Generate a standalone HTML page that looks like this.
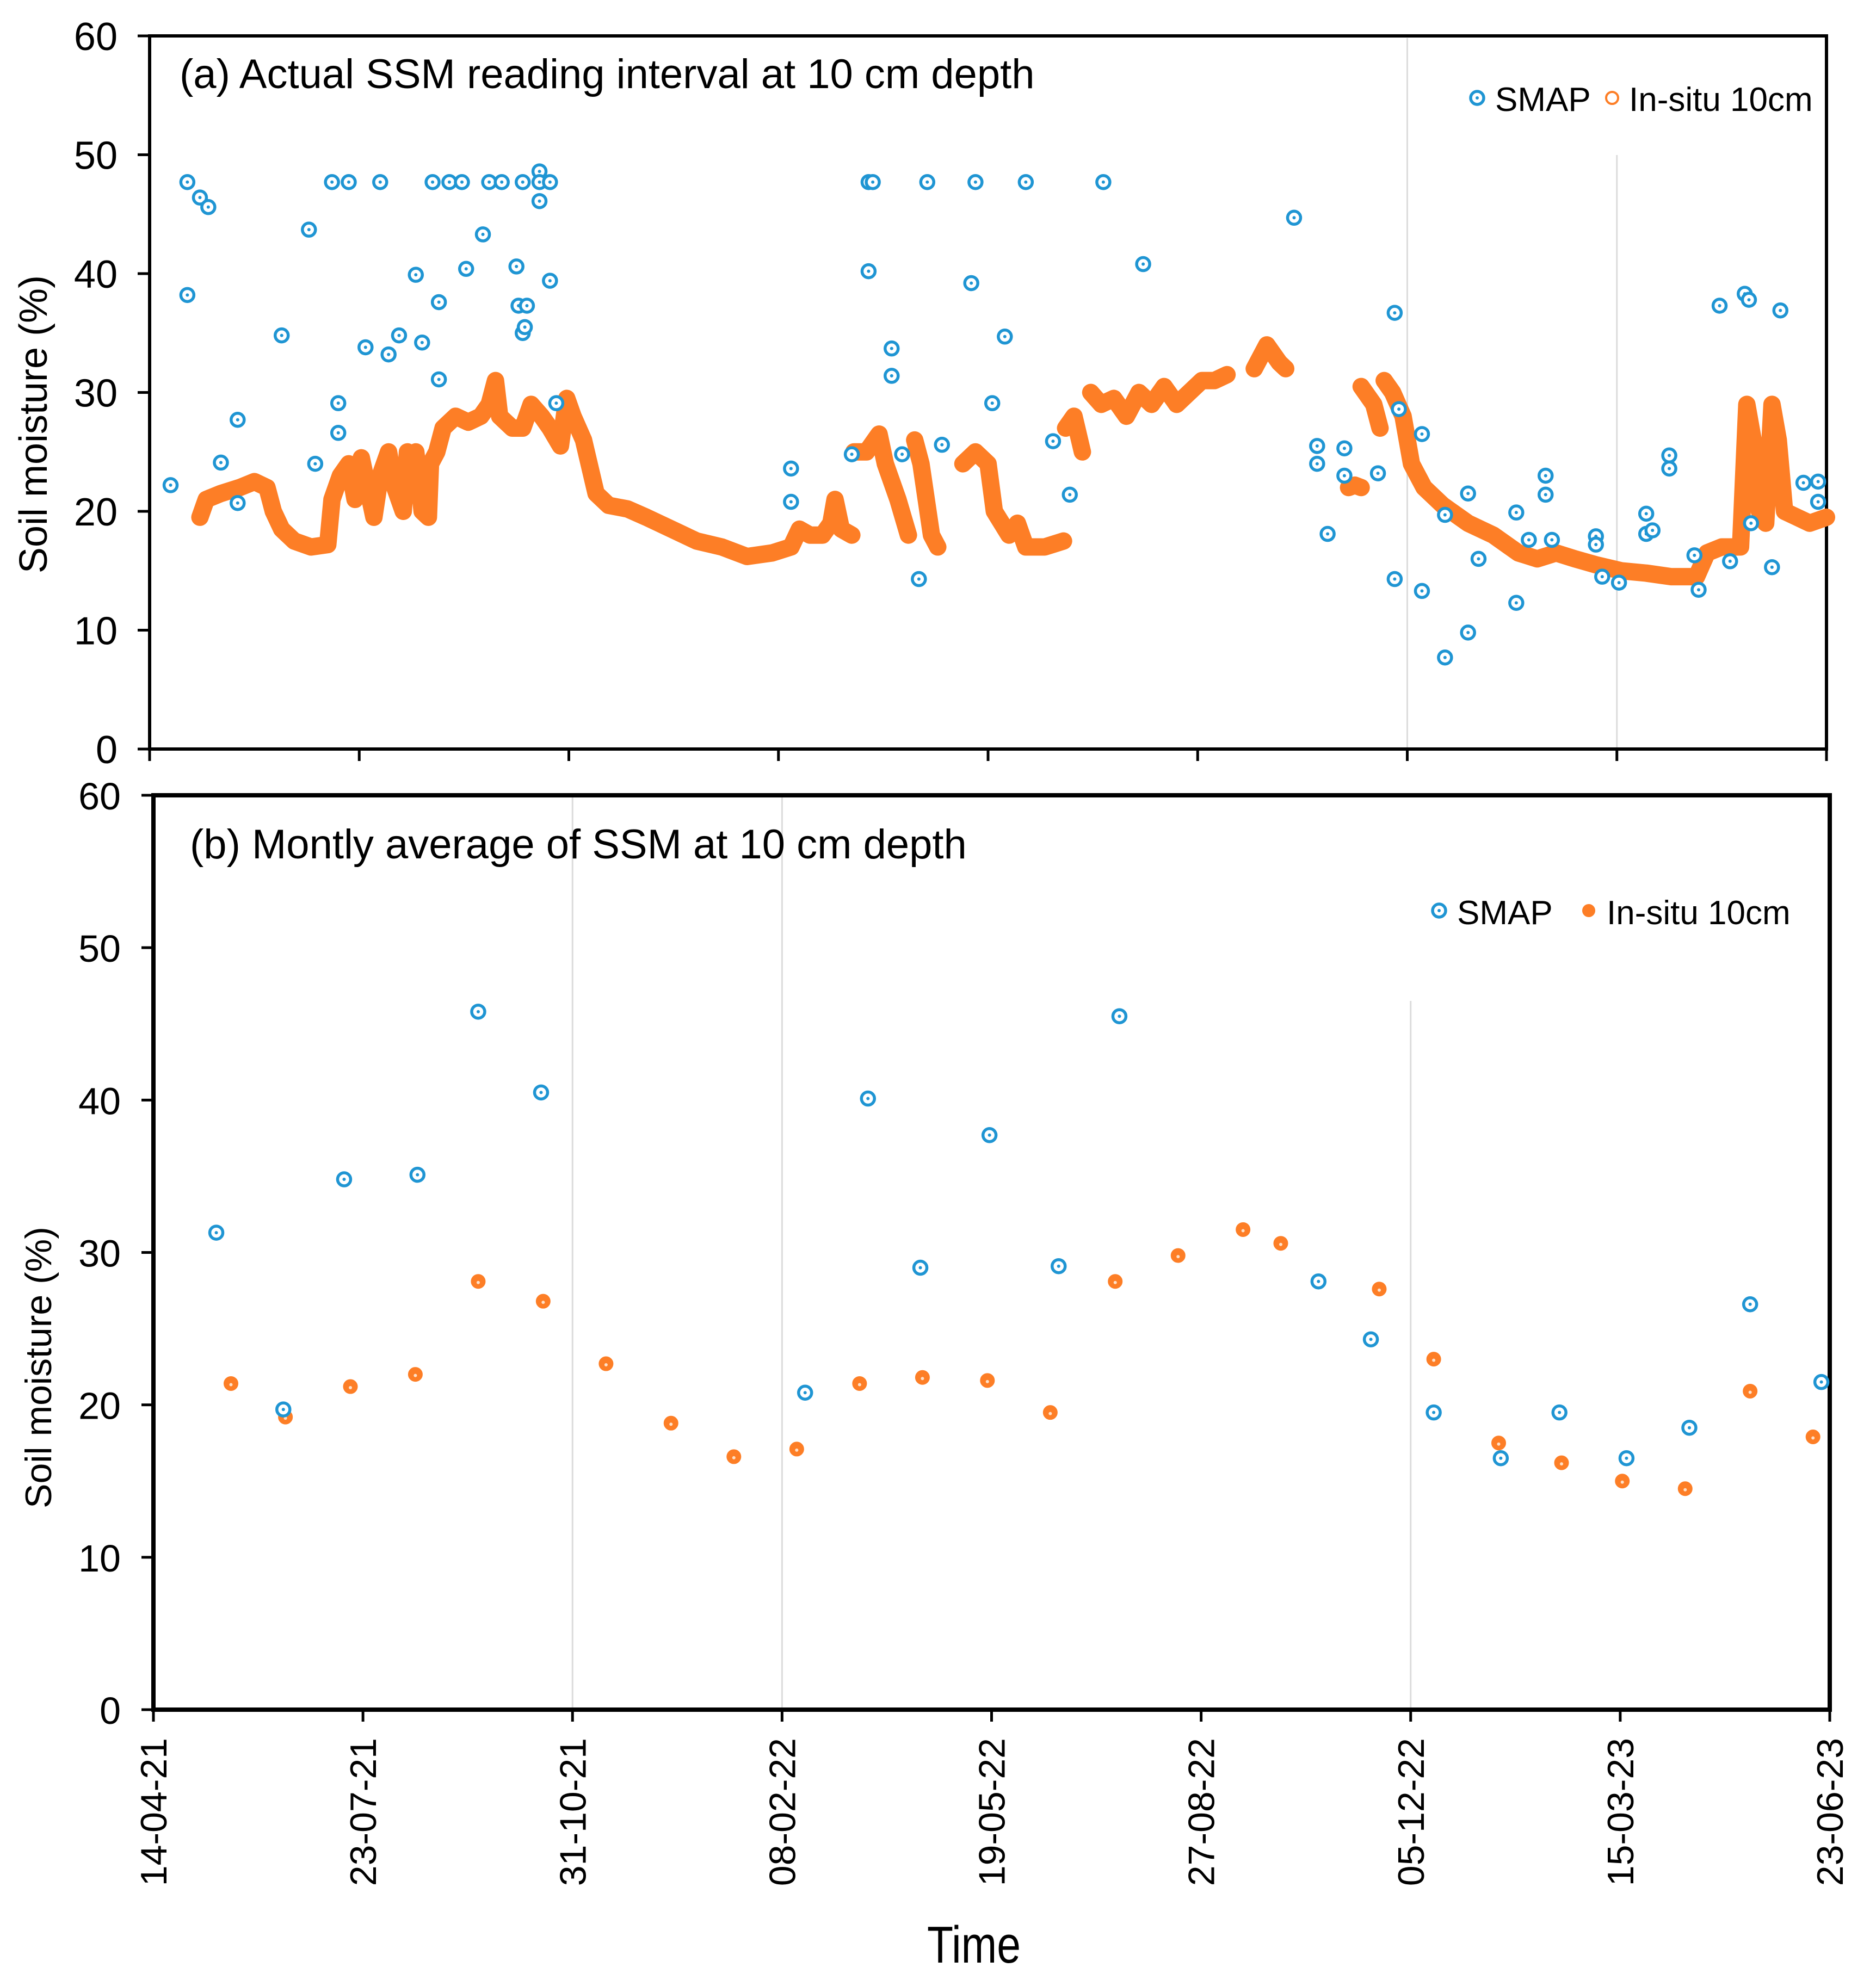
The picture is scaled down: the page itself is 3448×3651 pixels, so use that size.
<!DOCTYPE html>
<html><head><meta charset="utf-8">
<style>
html,body{margin:0;padding:0;background:#fff;}
svg{display:block;font-family:"Liberation Sans",sans-serif;}
</style></head>
<body>
<svg id="chart" width="3448" height="3651" viewBox="0 0 3448 3651" xmlns="http://www.w3.org/2000/svg">
<rect x="0" y="0" width="3448" height="3651" fill="#fff"/>
<g id="panelA"></g>
<g id="panelB"></g>
<text x="1790" y="3608" font-size="96" text-anchor="middle" transform="translate(1790 0) scale(0.82 1) translate(-1790 0)">Time</text>
</svg>
<script>
// ---- data ----
const xTickDays = [0,100,200,300,400,500,600,700,800];
const xTickLabels = ["14-04-21","23-07-21","31-10-21","08-02-22","19-05-22","27-08-22","05-12-22","15-03-23","23-06-23"];
const yTicks = [0,10,20,30,40,50,60];

// Panel (a) SMAP readings
const smapADays = [10,18,18,24,28,34,42,42,63,76,79,87,90,90,95,103,110,114,119,127,130,135,138,138,143,149,151,159,162,168,175,176,180,178,179,178,186,186,186,191,191,194,306,306,335,343,343,345,354,354,359,367,371,378,392,394,402,408,418,431,439,455,474,546,557,557,562,570,570,586,594,594,596,607,607,618,618,629,629,634,652,652,658,666,666,669,690,690,693,701,714,714,717,725,725,737,739,749,754,761,763,764,774,778,789,796,796];
const smapAVals = [22.2,47.7,38.2,46.4,45.6,24.1,27.7,20.7,34.8,43.7,24,47.7,29.1,26.6,47.7,33.8,47.7,33.2,34.8,39.9,34.2,47.7,31.1,37.6,47.7,47.7,40.4,43.3,47.7,47.7,40.6,37.3,37.3,35,35.5,47.7,48.6,47.7,46.1,47.7,39.4,29.1,23.6,20.8,24.8,47.7,40.2,47.7,33.7,31.4,24.8,14.3,47.7,25.6,39.2,47.7,29.1,34.7,47.7,25.9,21.4,47.7,40.8,44.7,25.5,24,18.1,25.3,23,23.2,36.7,14.3,28.6,26.5,13.3,19.7,7.7,21.5,9.8,16,19.9,12.3,17.6,23,21.4,17.6,17.9,17.2,14.5,14,19.8,18.1,18.4,24.7,23.6,16.3,13.4,37.3,15.8,38.3,37.8,19,15.3,36.9,22.4,22.5,20.8];

// Panel (a) in-situ 10cm (null = gap)
const insituADays = [24,27,34,43,50,56,59,63,69,77,85,87,91,95,98,101,104,107,110,114,117,121,123,125,127,130,133,134,137,140,146,152,158,162,165,167,173,178,182,187,191,196,199,202,207,213,219,228,237,249,261,273,285,297,306,310,315,321,325,327,330,335,null,
336,342,348,351,357,362,null,365,368,373,376,null,388,394,400,403,410,414,418,423,427,436,null,
437,441,445,null,449,454,460,466,472,478,484,490,496,502,508,514,null,527,533,539,542,null,572,575,578,null,
578,584,587,null,589,593,598,602,608,617,629,641,653,662,671,680,690,702,714,726,738,743,750,759,762,765,768,771,774,777,780,786,792,800];
const insituAVals = [19.5,21,21.5,22,22.5,22,20,18.5,17.5,17,17.2,21,23,24,21,24.5,22,19.5,23,25,22,20,25,23,25,20,19.5,24,25,27,28,27.5,28,29,31,28,27,27,29,28,27,25.5,29.5,28,26,21.5,20.5,20.2,19.5,18.5,17.5,17,16.2,16.5,17,18.5,18,18,19,21,18.5,18,null,
25,25,26.5,24,21,18,null,26,24,18,17,null,24,25,24,20,18,19,17,17,17,17.5,null,
27,28,25,null,30,29,29.5,28,30,29,30.5,29,30,31,31,31.5,null,32,34,32.5,32,null,22,22.2,22,null,
30.5,29,27,null,31,30,28,24,22,20.5,19,18,16.5,16,16.5,16,15.5,15,14.8,14.5,14.5,16.5,17,17,29,26,20,19,29,26,20,19.5,19,19.5];

// Panel (b) monthly averages
const smapBDays = [30,62,91,126,155,185,311,341,366,399,432,461,556,581,611,643,671,703,733,762,796];
const smapBVals = [31.3,19.7,34.8,35.1,45.8,40.5,20.8,40.1,29,37.7,29.1,45.5,28.1,24.3,19.5,16.5,19.5,16.5,18.5,26.6,21.5];
const insituBDays = [37,63,94,125,155,186,216,247,277,307,337,367,398,428,459,489,520,538,585,611,642,672,701,731,762,792];
const insituBVals = [21.4,19.2,21.2,22,28.1,26.8,22.7,18.8,16.6,17.1,21.4,21.8,21.6,19.5,28.1,29.8,31.5,30.6,27.6,23,17.5,16.2,15,14.5,20.9,17.9];

const NS="http://www.w3.org/2000/svg";
const BLUE="#1f95d3", ORANGE="#fd7e26";
function el(tag, attrs, parent){const e=document.createElementNS(NS,tag);for(const k in attrs)e.setAttribute(k,attrs[k]);parent.appendChild(e);return e;}

function drawPanel(g, P){
  const sx=d=>P.x0+(d/800)*(P.x1-P.x0);
  const sy=v=>P.yb-(v/60)*(P.yb-P.yt);
  P.grids.forEach(gr=>{
    const l=el('line',{x1:sx(gr[0]),x2:sx(gr[0]),y1:gr[1],y2:P.yb,stroke:'#dcdcdc','stroke-width':3},g);
    
    
  });
  yTicks.forEach(v=>{
    const t=el('line',{x1:P.x0-22,x2:P.x0,y1:sy(v),y2:sy(v),stroke:'#000','stroke-width':5},g);
    
    
    const tx=el('text',{x:P.labX,y:sy(v)+26,'font-size':P.fs,'text-anchor':'end'},g);
    tx.textContent=v;
    
    
  });
  xTickDays.forEach((d,i)=>{
    const t=el('line',{x1:sx(d),x2:sx(d),y1:P.yb,y2:P.yb+22,stroke:'#000','stroke-width':5},g);
    
    
    if(P.labels){
      const tx=el('text',{x:0,y:0,'font-size':68,'text-anchor':'end',transform:`translate(${sx(d)+24} ${P.yb+52}) rotate(-90)`},g);
      tx.textContent=xTickLabels[i];
      
      
    }
  });
  const fr=el('rect',{x:P.x0,y:P.yt,width:P.x1-P.x0,height:P.yb-P.yt,fill:'none',stroke:'#000','stroke-width':P.fw},g);
  
  
  const yt=el('text',{x:0,y:0,'font-size':P.yfs,'text-anchor':'middle',transform:`translate(${P.ytx} ${P.yty}) rotate(-90)`},g);
  yt.textContent='Soil moisture (%)';
  
  
  const tt=el('text',{x:P.titleX,y:P.titleY,'font-size':76},g);
  tt.textContent=P.title;
  
  
  return {sx,sy};
}
function smapMarker(g,x,y,name){
  const c=el('circle',{cx:x,cy:y,r:12,fill:'#fff',stroke:BLUE,'stroke-width':5.5},g);
  
  
  el('circle',{cx:x,cy:y,r:3,fill:BLUE},g);
}

// ---- Panel A ----
const gA=document.getElementById('panelA');
const A=drawPanel(gA,{x0:275,x1:3357,yt:66,yb:1377,fw:6,fs:72,yfs:72,labX:216,ytx:86,yty:780,labels:false,
  title:'(a)  Actual SSM reading interval at 10 cm depth',titleX:330,titleY:162,grids:[[600,70],[700,285]]});
let seg=[];const segs=[];
insituADays.forEach((d,i)=>{ if(d===null){if(seg.length)segs.push(seg);seg=[];} else seg.push([A.sx(d),A.sy(insituAVals[i])]); });
if(seg.length)segs.push(seg);
segs.forEach(s=>{
  const p=el('polyline',{points:s.map(q=>q.join(',')).join(' '),fill:'none',stroke:ORANGE,'stroke-width':32,'stroke-linejoin':'round','stroke-linecap':'round'},gA);
  
  
});
insituADays.forEach((d,i)=>{ if(d===null)return;
  const c=el('circle',{cx:A.sx(d),cy:A.sy(insituAVals[i]),r:13,fill:'none',stroke:ORANGE,'stroke-width':4},gA);
  
  
});
smapADays.forEach((d,i)=>smapMarker(gA,A.sx(d),A.sy(smapAVals[i]),'smap-point'));
smapMarker(gA,2715,180,'legend-smap-marker');
let lt=el('text',{x:2748,y:204,'font-size':62},gA);lt.textContent='SMAP';


let lc=el('circle',{cx:2963,cy:180,r:11,fill:'none',stroke:ORANGE,'stroke-width':4},gA);


lt=el('text',{x:2994,y:204,'font-size':62},gA);lt.textContent='In-situ 10cm';



// ---- Panel B ----
const gB=document.getElementById('panelB');
const B=drawPanel(gB,{x0:282,x1:3363,yt:1462,yb:3143,fw:8,fs:70,yfs:68,labX:222,ytx:94,yty:2514,labels:true,
  title:'(b) Montly average of SSM at 10 cm depth',titleX:349,titleY:1578,grids:[[200,1466],[300,1466],[600,1840]]});
insituBDays.forEach((d,i)=>{
  const c=el('circle',{cx:B.sx(d),cy:B.sy(insituBVals[i]),r:12,fill:ORANGE,stroke:ORANGE,'stroke-width':3},gB);
  
  
  el('circle',{cx:B.sx(d),cy:B.sy(insituBVals[i])+2,r:3,fill:'#fde0c8'},gB);
});
smapBDays.forEach((d,i)=>smapMarker(gB,B.sx(d),B.sy(smapBVals[i]),'smap-monthly-point'));
smapMarker(gB,2645,1674,'legend-smap-marker');
lt=el('text',{x:2678,y:1699,'font-size':62},gB);lt.textContent='SMAP';


lc=el('circle',{cx:2920,cy:1674,r:12,fill:ORANGE},gB);


lt=el('text',{x:2953,y:1699,'font-size':62},gB);lt.textContent='In-situ 10cm';


</script>
</body></html>
